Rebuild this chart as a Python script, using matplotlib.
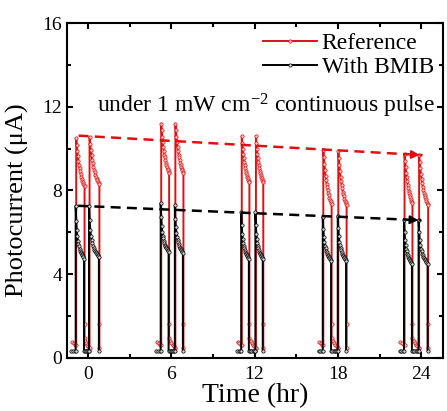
"""
Photocurrent stability of Reference vs. BMIB devices under continuous pulsed light.
"""
import numpy as np
import matplotlib
import matplotlib.pyplot as plt
from matplotlib.ticker import MultipleLocator

matplotlib.use('Agg')

plt.rcParams['font.family'] = ['Liberation Serif', 'DejaVu Serif']
plt.rcParams['mathtext.fontset'] = 'custom'
plt.rcParams['mathtext.rm'] = 'Liberation Serif'
plt.rcParams['mathtext.it'] = 'Liberation Serif:italic'

# light-on pulses (hr): two pulses at every check
pulse_start = [-0.84, 0.12, 5.28, 6.30, 11.08, 12.10, 16.95, 18.03, 22.80, 23.85]
pulse_end = [-0.24, 0.83, 5.85, 6.88, 11.63, 12.63, 17.55, 18.63, 23.37, 24.50]

# Reference device (uA)
ref_peak = [10.50, 10.55, 11.20, 11.20, 10.60, 10.60, 9.95, 9.90, 9.75, 9.70]
ref_tail = [8.20, 8.30, 8.85, 8.85, 8.40, 8.40, 7.35, 7.30, 7.40, 7.30]
ref_dark_before = [0.75, 0.70, 0.60]
ref_dark_after = [0.95, 0.80, 0.70, 0.60, 0.55, 0.50]
ref_fall_mid = 1.6
ref_shape = [0.00, 0.14, 0.27, 0.38, 0.48, 0.56, 0.63, 0.69, 0.75,
             0.80, 0.84, 0.88, 0.92, 0.95, 0.98, 1.00]

# BMIB device (uA)
bmib_peak = [7.27, 7.27, 7.40, 7.30, 6.95, 6.95, 6.75, 6.80, 6.60, 6.60]
bmib_tail = [4.75, 4.80, 5.05, 5.00, 4.75, 4.75, 4.65, 4.65, 4.50, 4.50]
bmib_dark_before = [0.32, 0.32, 0.32]
bmib_dark_after = [0.35, 0.35, 0.35, 0.35, 0.35, 0.35]
bmib_shape = [0.00, 0.28, 0.46, 0.58, 0.66, 0.72, 0.77, 0.81, 0.85,
              0.88, 0.90, 0.92, 0.94, 0.96, 0.98, 1.00]

# degradation guide lines (hr, uA)
ref_trend_x = [-0.67, 24.1]
ref_trend_y = [10.62, 9.69]
bmib_trend_x = [-0.70, 24.0]
bmib_trend_y = [7.27, 6.58]

RED = '#dd1111'
BLACK = '#000000'


def build_trace(peaks, tails, shape, dark_before, dark_after, fall_mid=None, shift=0.0):
    """Two pulses per check; NaN breaks the line between checks."""
    t, y = [], []
    for i, (s, e, p, f) in enumerate(zip(pulse_start, pulse_end, peaks, tails)):
        s, e = s + shift, e + shift
        if i % 2 == 0:
            if t:
                t.append(np.nan)
                y.append(np.nan)
            t += [s - 0.3, s - 0.18, s - 0.06]
            y += list(dark_before)
        t.append(s)
        y.append(dark_before[-1] if i % 2 == 0 else dark_after[-1])
        t += list(np.linspace(s, e, len(shape)))
        y += [p - (p - f) * k for k in shape]
        if fall_mid is not None:
            t.append(e)
            y.append(fall_mid)
        if i % 2 == 0:
            nxt = pulse_start[i + 1] + shift
            t += list(np.linspace(e, nxt - 0.03, len(dark_after)))
            y += list(dark_after)
        else:
            t.append(e)
            y.append(dark_after[-1])
    return np.array(t), np.array(y)


fig, ax = plt.subplots(figsize=(4.47, 4.11), dpi=100)
fig.subplots_adjust(left=0.150, right=0.992, bottom=0.129, top=0.944)

rt, ry = build_trace(ref_peak, ref_tail, ref_shape, ref_dark_before,
                     ref_dark_after, ref_fall_mid)
bt, by = build_trace(bmib_peak, bmib_tail, bmib_shape, bmib_dark_before,
                     bmib_dark_after, shift=-0.04)

ax.plot(rt, ry, '-o', color=RED, lw=1.4, ms=2.4, mfc='#f4c0c0', mec=RED,
        mew=0.5, label='Reference', zorder=2)
ax.plot(bt, by, '-o', color=BLACK, lw=1.4, ms=2.4, mfc='#d0d0d0', mec=BLACK,
        mew=0.5, label='With BMIB', zorder=3)

# dashed trend lines with filled arrow heads
for xs, ys, c in [(ref_trend_x, ref_trend_y, RED), (bmib_trend_x, bmib_trend_y, BLACK)]:
    ax.plot(xs, ys, '--', color=c, lw=1.8, dashes=(4, 2.5), zorder=4)
    slope = (ys[1] - ys[0]) / (xs[1] - xs[0])
    ax.annotate('', xy=(xs[1], ys[1]), xytext=(xs[1] - 0.8, ys[1] - 0.8 * slope),
                arrowprops=dict(arrowstyle='-|>', color=c, lw=1.2, mutation_scale=13),
                zorder=5)

ax.set_xlim(-1.5, 25.6)
ax.set_ylim(0, 16)
ax.xaxis.set_major_locator(MultipleLocator(6))
ax.xaxis.set_minor_locator(MultipleLocator(3))
ax.yaxis.set_major_locator(MultipleLocator(4))
ax.yaxis.set_minor_locator(MultipleLocator(2))
ax.tick_params(which='both', direction='in', top=True, right=True, width=1.5,
               labelsize=14)
ax.tick_params(which='major', length=4)
ax.tick_params(which='minor', length=3)
ax.tick_params(axis='x', pad=6)
for sp in ax.spines.values():
    sp.set_linewidth(1.5)

ax.set_xlabel('Time (hr)', fontsize=20, labelpad=0)
ax.set_ylabel('Photocurrent (\u03bcA)', fontsize=19)
ax.yaxis.set_label_coords(-0.10, 0.47)

ax.legend(loc='upper right', frameon=False, fontsize=17, handlelength=2.3,
          handletextpad=0.2, labelspacing=0.1, borderaxespad=0.0,
          bbox_to_anchor=(1.0, 1.0))
ax.text(12.8, 12.05, 'under 1 mW cm$^{-2}$ continuous pulse', fontsize=17,
        ha='center', va='center')

fig.savefig('out.png', dpi=100)
